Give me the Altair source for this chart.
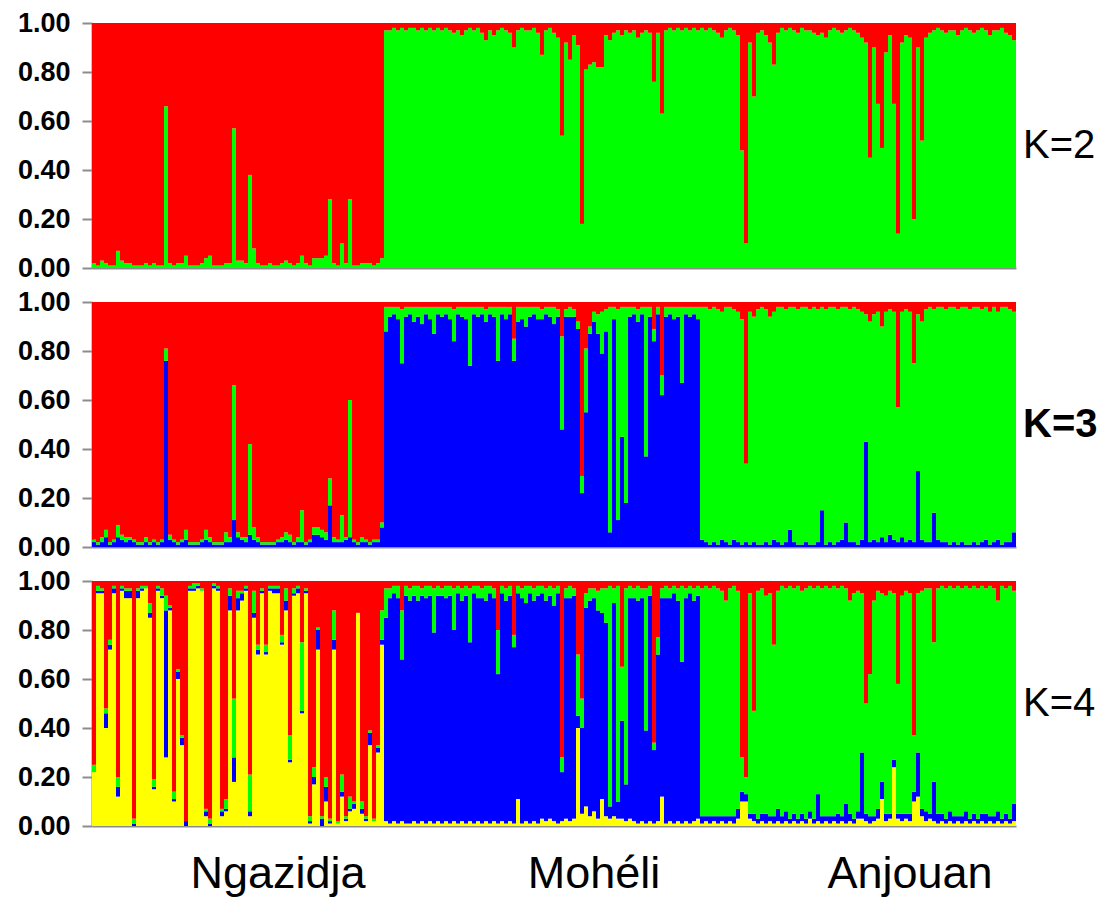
import altair as alt
import pandas as pd

# ---------------- data (percent ancestry per individual) ----------------
populations = ["Ngazidja", "Mohéli", "Anjouan"]
clusters_order = ["yellow", "blue", "green", "red"]          # bottom -> top
cluster_colors = ["#FFFF00", "#0000FF", "#00FF00", "#FF0000"]

# K=2 (green, red); the missing cluster of each population is the remainder
ngaz_k2_green = [2,1,3,2,1,1,7,3,2,2, 1,1,1,2,1,2,1,1,66,2, 1,2,2,5,1,1,1,2,4,5,
                 1,1,1,2,2,57,3,3,2,38, 8,2,1,1,2,1,1,2,3,2, 1,2,5,2,1,4,4,4,5,28,
                 2,1,10,2,28,1,1,2,2,2, 1,2,4]
moh_k2_red = [3,3,2,3,2,3,2,2,3,2, 3,2,3,2,3,2,3,4,3,5, 3,2,3,2,4,7,3,5,3,2,
              3,4,10,3,2,3,3,2,4,13, 3,2,4,6,46,8,15,5,9,82, 19,17,16,18,18,5,7,4,3,5,
              3,4,3,6,4,3,4,24,4,37, 3,2,3,2,3,2,3,2,3]
anj_k2_red = [2,3,2,3,4,6,3,2,3,5, 52,90,8,30,4,3,5,8,17,4, 2,3,2,3,4,2,3,3,4,5,
              4,6,3,2,3,4,3,2,3,4, 6,8,55,10,33,51,12,5,33,86, 8,5,6,80,10,48,6,4,3,2,
              3,4,3,3,5,3,2,3,4,3, 2,3,5,3,3,2,4,5,7]

# K=3 (blue, green, red)
ngaz_k3_blue = [2,1,2,4,1,2,4,3,2,3, 2,1,1,2,1,2,1,2,76,3, 2,1,2,3,1,1,1,2,3,2,
                1,1,1,2,2,11,4,3,2,5, 3,2,1,1,1,1,2,2,3,2, 1,2,2,1,2,5,5,4,3,17,
                2,2,2,3,4,2,1,2,2,1, 2,2,8]
ngaz_k3_green = [1,1,2,3,1,1,5,2,2,1, 1,1,1,2,1,1,1,1,5,2, 1,1,1,4,1,1,1,1,4,2,
                 1,1,1,4,2,55,2,1,2,37, 5,2,1,1,1,1,1,2,3,3, 1,2,13,1,1,3,3,3,3,11,
                 2,1,11,1,56,1,1,2,1,1, 1,1,2]
moh_k3_red = [2,2,2,2,3,2,2,2,2,2, 2,2,2,2,2,2,2,3,2,2, 2,2,2,2,2,3,2,2,2,2,
              2,2,15,2,2,2,2,2,2,3, 2,2,2,3,14,3,2,3,8,71, 19,10,4,5,4,3,2,2,3,2,
              2,2,2,3,2,2,2,11,2,30, 2,2,2,2,2,2,2,2,2]
moh_k3_green = [10,4,3,5,22,4,3,6,4,7, 3,5,11,3,4,3,5,13,3,4, 5,24,3,4,3,5,3,4,22,3,
                5,3,9,6,5,8,4,3,5,4, 3,4,7,3,38,3,4,3,3,7, 26,3,4,8,17,9,92,5,86,53,
                80,4,3,5,3,61,4,5,3,8, 4,3,5,4,31,3,4,3,5]
anj_k3_red = [2,2,3,2,3,4,2,2,3,4, 7,66,4,6,3,2,3,6,4,2, 2,3,2,2,3,2,2,3,2,3,
              2,3,2,2,3,2,2,3,2,3, 4,5,8,5,4,10,4,3,4,43, 4,3,4,25,5,8,3,2,3,2,
              2,3,2,2,3,2,2,3,2,2, 3,2,4,2,4,2,2,3,4]
anj_k3_blue = [3,2,1,2,1,3,2,1,3,2, 1,2,1,2,1,1,2,1,3,2, 1,2,7,2,1,1,2,1,1,2,
               15,1,2,1,2,3,10,2,2,1, 3,43,2,3,2,4,2,5,3,2, 4,2,3,2,31,3,2,2,14,3,
               2,2,1,2,1,2,1,1,2,1, 2,3,1,2,3,1,2,2,6]

# K=4 (yellow, blue, green, red)
ngaz_k4_yellow = [22,95,95,40,72,95,12,96,93,93, 0,93,96,97,85,15,96,93,28,88,
                  10,60,33,0,96,96,97,96,4,0, 97,96,4,6,88,18,88,92,96,4,
                  85,70,95,70,96,95,95,74,88,26, 94,95,46,95,1,17,72,0,10,1,
                  72,1,12,2,6,7,87,5,2,33, 2,30,74]
ngaz_k4_blue = [0,1,1,6,2,2,4,1,3,3, 1,3,1,0,2,1,1,1,60,1, 1,3,3,2,1,1,1,0,2,1,
                1,1,2,1,6,10,5,3,1,2, 2,2,1,1,1,2,2,1,4,1, 1,2,1,1,1,3,8,3,6,1,
                4,0,2,1,1,2,0,2,1,5, 0,2,2]
ngaz_k4_green = [3,2,1,2,2,1,4,1,1,1, 2,1,1,1,4,3,1,3,6,1, 3,1,1,0,1,2,1,1,1,2,
                 1,1,1,4,3,24,3,1,1,15, 9,2,1,3,1,1,1,3,5,10, 2,1,28,1,2,4,1,1,4,1,
                 12,1,7,1,5,1,0,3,1,1, 1,1,12]
moh_k4_yellow = [2,1,2,1,2,1,1,2,1,2, 1,2,1,2,1,2,1,2,1,2, 1,2,1,2,1,2,1,2,1,2,
                 1,2,1,11,1,2,1,2,1,3, 2,3,2,1,2,3,2,3,40,5, 8,4,6,3,11,4,3,4,3,3,
                 2,3,2,1,2,1,2,1,2,12, 1,2,1,2,1,2,1,2,3]
moh_k4_green = [12,4,3,5,20,4,5,4,6,3, 5,4,18,4,3,5,4,17,3,5, 4,22,3,5,4,6,3,4,18,3,
                5,4,5,3,4,7,3,5,4,3, 5,4,7,3,6,4,5,3,25,12, 6,5,4,8,10,14,90,6,88,22,
                80,5,4,6,4,58,4,3,7,4, 5,4,3,5,31,4,3,5,4]
moh_k4_red = [3,3,2,2,12,2,3,2,2,3, 2,2,3,2,3,2,2,3,2,3, 2,3,2,2,3,2,2,3,20,2,
              3,2,22,2,3,2,2,3,2,2, 3,2,3,2,72,3,2,3,30,48, 5,3,3,4,3,3,2,3,2,35,
              3,2,3,2,3,3,2,66,23,3, 2,3,2,3,2,3,2,3,2]
anj_k4_yellow = [1,2,1,2,1,2,1,2,1,3, 10,10,3,2,1,2,1,2,1,2, 1,2,1,2,1,2,1,3,1,2,
                 1,2,1,2,1,2,1,2,1,3, 3,2,1,2,3,11,2,3,24,3, 2,3,2,10,12,4,2,3,2,1,
                 2,1,2,1,2,1,2,1,2,1, 2,1,2,1,2,1,2,1,2]
anj_k4_blue = [3,2,3,2,3,2,3,2,3,4, 4,3,2,3,2,3,4,2,3,5, 3,4,2,3,2,3,2,3,2,11,
               3,2,3,2,4,2,8,3,2,3, 27,3,3,2,4,7,3,2,3,2, 3,2,3,4,18,3,4,2,16,4,
               3,2,4,3,2,3,4,2,3,2, 3,4,2,3,4,2,3,2,7]
anj_k4_red = [3,2,3,2,3,4,8,3,2,4, 72,80,5,53,4,3,6,5,26,4, 2,3,2,3,2,4,3,2,3,2,
              3,2,3,2,3,2,3,8,5,4, 5,50,38,8,4,5,6,4,5,42, 6,4,5,63,5,4,3,3,25,3,
              2,3,2,3,2,3,2,3,2,3, 2,3,2,3,8,2,3,2,4]

# ---------------- layout constants ----------------
W, H = 924, 245
POP_LABEL_IND = [46, 125, 204]   # individual index under which each island label is centred
FONT = "Liberation Sans"


def frame(pops, clusters):
    rows = []
    offset = 0
    for comp in pops:
        n = max(len(v) for v in comp.values())
        for j in range(n):
            known = {c: comp[c][j] for c in comp}
            rest = 100 - sum(known.values())
            for c in clusters:
                rows.append({"ind": offset + j, "cluster": c,
                             "rank": clusters_order.index(c),
                             "value": known.get(c, rest) / 100.0})
        offset += n
    return pd.DataFrame(rows)


df2 = frame([{"green": ngaz_k2_green}, {"red": moh_k2_red}, {"red": anj_k2_red}],
            ["green", "red"])
df3 = frame([{"blue": ngaz_k3_blue, "green": ngaz_k3_green},
             {"red": moh_k3_red, "green": moh_k3_green},
             {"red": anj_k3_red, "blue": anj_k3_blue}],
            ["blue", "green", "red"])
df4 = frame([{"yellow": ngaz_k4_yellow, "blue": ngaz_k4_blue, "green": ngaz_k4_green},
             {"yellow": moh_k4_yellow, "green": moh_k4_green, "red": moh_k4_red},
             {"yellow": anj_k4_yellow, "blue": anj_k4_blue, "red": anj_k4_red}],
            ["yellow", "blue", "green", "red"])


def panel(df, label, bold, bottom=False):
    bars = alt.Chart(df).mark_bar().encode(
        x=alt.X("ind:O", scale=alt.Scale(paddingInner=0, paddingOuter=0),
                axis=alt.Axis(labels=False, ticks=False, title=None,
                              domainColor="#8c8c8c", domainWidth=2)),
        y=alt.Y("value:Q", stack="zero",
                scale=alt.Scale(domain=[0, 1], nice=False),
                axis=alt.Axis(values=[0, 0.2, 0.4, 0.6, 0.8, 1.0], format=".2f",
                              title=None, grid=False, labelFont=FONT,
                              labelFontSize=27, labelFontWeight="bold",
                              labelColor="black", tickColor="#8c8c8c",
                              tickSize=10, tickWidth=2, labelPadding=12,
                              domainColor="#8c8c8c", domainWidth=2,
                              minExtent=80, maxExtent=80)),
        color=alt.Color("cluster:N",
                        scale=alt.Scale(domain=clusters_order, range=cluster_colors),
                        legend=None),
        order=alt.Order("rank:Q", sort="ascending"),
    )
    klab = alt.Chart(pd.DataFrame({"t": [label]})).mark_text(
        align="left", baseline="middle", fontSize=40, font=FONT,
        fontWeight="bold" if bold else "normal", color="black"
    ).encode(text="t:N", x=alt.value(W + 7), y=alt.value(H / 2))
    layers = [bars, klab]
    if bottom:
        pl = alt.Chart(pd.DataFrame({"pop": populations, "ind": POP_LABEL_IND})).mark_text(
            baseline="alphabetic", fontSize=45, font=FONT, color="black"
        ).encode(x="ind:O", text="pop:N", y=alt.value(H + 62))
        layers.append(pl)
    return alt.layer(*layers).properties(width=W, height=H)


chart = alt.vconcat(
    panel(df2, "K=2", False),
    panel(df3, "K=3", True),
    panel(df4, "K=4", False, bottom=True),
    spacing=34, bounds="flush"
).properties(
    padding={"left": 4, "top": 1, "right": 0, "bottom": 0}
).configure_view(stroke=None)

chart.save("out.html", embed_options={"renderer": "svg", "actions": False})
